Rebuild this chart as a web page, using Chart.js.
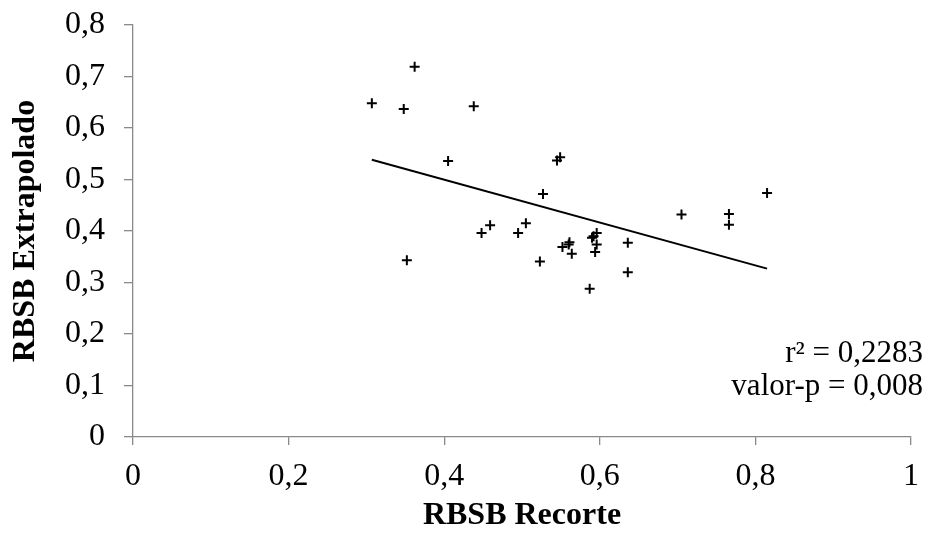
<!DOCTYPE html>
<html>
<head>
<meta charset="utf-8">
<script src="https://cdn.jsdelivr.net/npm/chart.js@4"></script>
<style>
  html, body { margin: 0; padding: 0; background: #fff; }
  #wrap { width: 932px; height: 535px; }
</style>
</head>
<body>
<div id="wrap"><canvas id="scatterChart" width="932" height="535"></canvas></div>
<script>
// values
var recorteX = [0.307, 0.348, 0.362, 0.352, 0.405, 0.438, 0.448, 0.459, 0.495, 0.505,
                0.523, 0.527, 0.545, 0.549, 0.552, 0.561, 0.560, 0.564, 0.587, 0.590,
                0.592, 0.596, 0.596, 0.594, 0.636, 0.636, 0.705, 0.766, 0.766, 0.815];
var extrapY = [0.648, 0.637, 0.719, 0.343, 0.536, 0.642, 0.396, 0.411, 0.396, 0.415,
               0.341, 0.472, 0.537, 0.543, 0.369, 0.378, 0.374, 0.356, 0.288, 0.387,
               0.390, 0.396, 0.374, 0.359, 0.377, 0.320, 0.432, 0.433, 0.412, 0.474];
var trendX = [0.307, 0.815];
var trendY = [0.5385, 0.327];
var statLines = ['r\u00b2 = 0,2283', 'valor-p = 0,008'];

var axisGray = '#898989';
var serif = '"Liberation Serif", "Times New Roman", serif';

function fmt(v) {
    return String(Number(v.toFixed(1))).replace('.', ',');
}

var points = recorteX.map(function(x, i) { return { x: x, y: extrapY[i] }; });
var trend = trendX.map(function(x, i) { return { x: x, y: trendY[i] }; });

// r² / p-value text in the lower right corner
var statsText = {
    id: 'statsText',
    afterDraw: function(chart) {
        var ctx = chart.ctx;
        ctx.save();
        ctx.font = '31px ' + serif;
        ctx.fillStyle = '#000';
        ctx.textAlign = 'right';
        ctx.textBaseline = 'middle';
        ctx.fillText(statLines[0], 923, 354);
        ctx.fillText(statLines[1], 923, 387);
        ctx.restore();
    }
};

var ctx = document.getElementById('scatterChart').getContext('2d');
var chart = new Chart(ctx, {
    type: 'scatter',
    data: {
        datasets: [{
            label: 'dados',
            data: points,
            pointStyle: 'cross',
            pointRadius: 5,
            pointHoverRadius: 5,
            borderColor: '#000',
            backgroundColor: '#000',
            borderWidth: 2
        }, {
            type: 'line',
            label: 'tendencia',
            data: trend,
            borderColor: '#000',
            borderWidth: 2,
            pointRadius: 0,
            fill: false
        }]
    },
    options: {
        responsive: false,
        animation: false,
        layout: { padding: { left: 0, right: 21, top: 25, bottom: 0 } },
        plugins: {
            legend: { display: false },
            tooltip: { enabled: false }
        },
        scales: {
            x: {
                type: 'linear',
                min: 0,
                max: 1,
                afterFit: function(scale) {
                    scale.height = 98;
                    scale.paddingLeft = 0;
                    scale.paddingRight = 0;
                },
                border: { color: axisGray, width: 1.3 },
                grid: { drawOnChartArea: false, drawTicks: true, tickLength: 8, color: axisGray, lineWidth: 1.3 },
                ticks: {
                    stepSize: 0.2,
                    padding: 12,
                    color: '#000',
                    font: { family: serif, size: 32 },
                    callback: function(value) { return fmt(value); }
                },
                title: {
                    display: true,
                    text: 'RBSB Recorte',
                    color: '#000',
                    padding: { top: 0, bottom: 0 },
                    font: { family: serif, size: 32, weight: 'bold' }
                }
            },
            y: {
                type: 'linear',
                min: 0,
                max: 0.8,
                afterFit: function(scale) {
                    scale.width = 133;
                    scale.paddingTop = 0;
                    scale.paddingBottom = 0;
                },
                border: { color: axisGray, width: 1.3 },
                grid: { drawOnChartArea: false, drawTicks: true, tickLength: 9, color: axisGray, lineWidth: 1.3 },
                ticks: {
                    stepSize: 0.1,
                    padding: 19,
                    color: '#000',
                    font: { family: serif, size: 32 },
                    callback: function(value) { return fmt(value); }
                },
                title: {
                    display: true,
                    text: 'RBSB Extrapolado',
                    color: '#000',
                    padding: { top: 7, bottom: 0 },
                    font: { family: serif, size: 32, weight: 'bold' }
                }
            }
        }
    },
    plugins: [statsText]
});
</script>
</body>
</html>
